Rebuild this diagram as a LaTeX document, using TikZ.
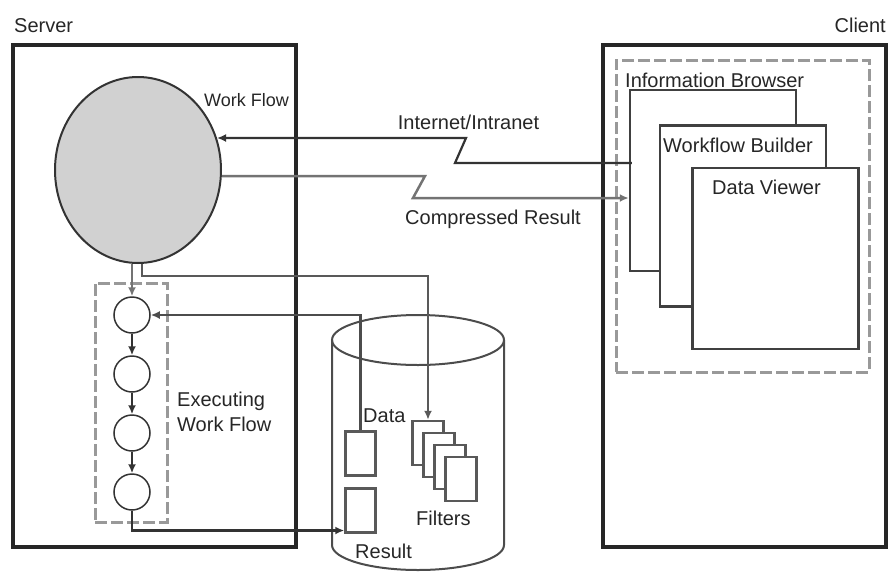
\documentclass[tikz,border=0pt]{standalone}
\usepackage{fontspec}
\setmainfont{Liberation Sans}
\usetikzlibrary{arrows.meta,shapes.geometric}
\tikzset{
  lbl/.style={font=\fontsize{20}{25}\selectfont, text=black!85, inner sep=0pt},
  outerbox/.style={draw=black!85, line width=3.5pt, minimum width=283pt, minimum height=502pt, inner sep=0pt},
  dashbox/.style={draw=black!40, line width=3pt, dash pattern=on 12pt off 4pt, inner sep=0pt},
  winbox/.style={draw=black!75, line width=2.5pt, fill=white, minimum width=166pt, minimum height=181pt, inner sep=0pt},
  flowstep/.style={circle, draw=black!80, line width=1.5pt, minimum size=36pt, inner sep=0pt},
  docbox/.style={draw=black!65, line width=2.5pt, fill=white, minimum width=30pt, minimum height=44pt, inner sep=0pt},
  arr/.style={-{Latex[length=9pt,width=8pt]}},
  darkline/.style={draw=black!80, line width=2.2pt},
  grayline/.style={draw=black!55, line width=2.5pt},
}
\begin{document}
\begin{tikzpicture}[x=1pt, y=-1pt]
  \useasboundingbox (0,0) rectangle (889,571);
  %画出服务器和客户端的外框
  \node[outerbox] (server) at (154.5,296) {};
  \node[outerbox] (client) at (744.5,296) {};
  \node[lbl, anchor=west] (serverlbl) at (14,25.5) {Server};
  \node[lbl, anchor=east] (clientlbl) at (886,25.5) {Client};

  %客户端里的虚线框和三个叠放的窗口
  \node[dashbox, minimum width=253pt, minimum height=312pt] (clientdash) at (742.5,216) {};
  \node[winbox] (browser) at (713,180.5) {};
  \node[winbox] (builder) at (743,216) {};
  \node[winbox] (viewer) at (775.5,258.5) {};
  \node[lbl, anchor=west] (browserlbl) at (625,80) {Information Browser};
  \node[lbl, anchor=west] (builderlbl) at (663,145) {Workflow Builder};
  \node[lbl, anchor=west] (viewerlbl) at (712,187) {Data Viewer};

  %画出工作流大圆和执行中的四个小圆
  \node[ellipse, draw=black!80, line width=2pt, fill=black!18,
        minimum width=166pt, minimum height=186pt] (workflow) at (138,170) {};
  \node[lbl, font=\fontsize{18}{22}\selectfont, anchor=west] (workflowlbl) at (204,100) {Work Flow};
  \node[dashbox, minimum width=72pt, minimum height=239pt] (execdash) at (131,402.5) {};
  \foreach \i/\y in {1/315, 2/374, 3/433, 4/492}
    \node[flowstep] (fl\i) at (132,\y) {};
  \node[lbl, align=left, anchor=west] (execlbl) at (177,412) {Executing\\Work Flow};

  %画出数据库圆柱
  \draw[black!70, line width=2pt] (418,340) ellipse (86 and 25);
  \draw[black!70, line width=2pt] (332,340) -- (332,545) arc (180:0:86 and 25) -- (504,340);

  %圆柱里的数据、结果和过滤器
  \node[docbox] (data) at (360.5,453.5) {};
  \node[docbox] (result) at (360.5,510.5) {};
  \foreach \i/\x/\y in {1/428/443, 2/439/455, 3/450/467, 4/461/479}
    \node[docbox, minimum width=31pt] (f\i) at (\x,\y) {};
  \node[lbl, anchor=west] (datalbl) at (363,416) {Data};
  \node[lbl, anchor=west] (filterslbl) at (416,518.5) {Filters};
  \node[lbl, anchor=west] (resultlbl) at (355,551.5) {Result};

  %网络连接,带折断符号
  \coordinate (inetR) at (466,138);
  \coordinate (inetL) at (455,163);
  \draw[darkline, arr] ([xshift=3pt]browser.west |- inetL) -- (inetL) -- (inetR) -- (inetR -| workflow.22);
  \node[lbl] (inetlbl) at (468.5,122.5) {Internet/Intranet};
  \coordinate (compL) at (425,176);
  \coordinate (compR) at (413,198);
  \draw[grayline, arr] (compL -| workflow.-4) -- (compL) -- (compR) -- (browser.west |- compR);
  \node[lbl] (complbl) at (493,219.5) {Compressed Result};

  %工作流内部的连线
  \draw[grayline, arr] (workflow.south -| fl1.north) -- (fl1.north);
  \foreach \i/\j in {1/2, 2/3, 3/4}
    \draw[darkline, arr] (fl\i.south) -- (fl\j.north);
  \draw[grayline, draw=black!65, arr] ([xshift=4pt]workflow.south) -- ++(0,12) -| (f1.north);
  \draw[darkline, draw=black!70, arr] (data.north) |- (fl1.east);
  \draw[darkline, arr] (fl4.south) |- ([yshift=-20pt]result.west);
\end{tikzpicture}
\end{document}
